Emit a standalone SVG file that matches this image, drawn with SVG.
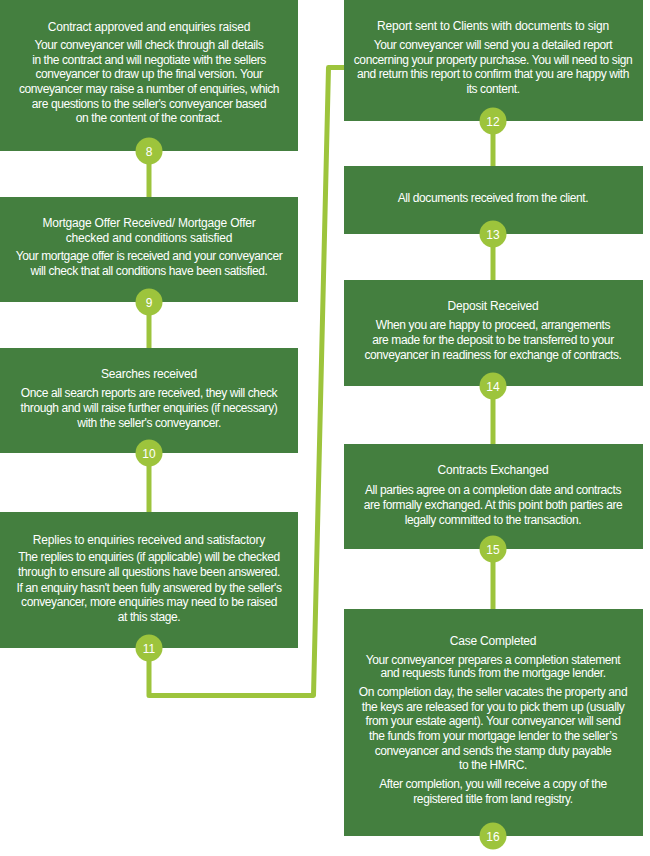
<svg xmlns="http://www.w3.org/2000/svg" width="650" height="856" viewBox="0 0 650 856">
<style>
.box{fill:#447f3f;}
.t{fill:#ffffff;font-family:"Liberation Sans",Arial,sans-serif;font-size:12px;letter-spacing:-0.4px;text-anchor:middle;}
.h{fill:#ffffff;font-family:"Liberation Sans",Arial,sans-serif;font-size:12px;letter-spacing:-0.2px;text-anchor:middle;}
.dot{fill:#9dc43c;}
.num{fill:#ffffff;font-family:"Liberation Sans",Arial,sans-serif;font-size:12px;text-anchor:middle;}
.conn{fill:none;stroke:#9dc43c;stroke-width:5;stroke-linejoin:round;}
</style>
<rect width="650" height="856" fill="#ffffff"/>
<g id="connectors">
<line class="conn" x1="149" y1="151" x2="149" y2="197"/>
<line class="conn" x1="149" y1="302" x2="149" y2="348"/>
<line class="conn" x1="149" y1="453" x2="149" y2="512"/>
<path class="conn" d="M149,648 L149,695.5 L313.5,695.5 L328.5,67.5 L345,67.5"/>
<line class="conn" x1="493" y1="121" x2="493" y2="166"/>
<line class="conn" x1="493" y1="234" x2="493" y2="280"/>
<line class="conn" x1="493" y1="386" x2="493" y2="444"/>
<line class="conn" x1="493" y1="549" x2="493" y2="609"/>
</g>
<g id="node8">
<rect class="box" x="0" y="0" width="298" height="151"/>
<text class="h" x="149" y="30.5">Contract approved and enquiries raised</text>
<text class="t" x="149" y="48.5">Your conveyancer will check through all details</text>
<text class="t" x="149" y="63.5">in the contract and will negotiate with the sellers</text>
<text class="t" x="149" y="78">conveyancer to draw up the final version. Your</text>
<text class="t" x="149" y="93">conveyancer may raise a number of enquiries, which</text>
<text class="t" x="149" y="107.5">are questions to the seller's conveyancer based</text>
<text class="t" x="149" y="122">on the content of the contract.</text>
<circle class="dot" cx="149" cy="151" r="13.5"/>
<text class="num" x="149" y="155.5">8</text>
</g>
<g id="node9">
<rect class="box" x="0" y="197" width="298" height="105"/>
<text class="h" x="149" y="226.5">Mortgage Offer Received/ Mortgage Offer</text>
<text class="h" x="149" y="241.5">checked and conditions satisfied</text>
<text class="t" x="149" y="259.5">Your mortgage offer is received and your conveyancer</text>
<text class="t" x="149" y="274.5">will check that all conditions have been satisfied.</text>
<circle class="dot" cx="149" cy="302" r="13.5"/>
<text class="num" x="149" y="306.5">9</text>
</g>
<g id="node10">
<rect class="box" x="0" y="348" width="298" height="105"/>
<text class="h" x="149" y="377.5">Searches received</text>
<text class="t" x="149" y="396.5">Once all search reports are received, they will check</text>
<text class="t" x="149" y="411.5">through and will raise further enquiries (if necessary)</text>
<text class="t" x="149" y="426.5">with the seller's conveyancer.</text>
<circle class="dot" cx="149" cy="453" r="13.5"/>
<text class="num" x="149" y="457.5">10</text>
</g>
<g id="node11">
<rect class="box" x="0" y="512" width="298" height="136"/>
<text class="h" x="149" y="543.5">Replies to enquiries received and satisfactory</text>
<text class="t" x="149" y="561">The replies to enquiries (if applicable) will be checked</text>
<text class="t" x="149" y="576">through to ensure all questions have been answered.</text>
<text class="t" x="149" y="591.5">If an enquiry hasn't been fully answered by the seller's</text>
<text class="t" x="149" y="605.5">conveyancer, more enquiries may need to be raised</text>
<text class="t" x="149" y="621">at this stage.</text>
<circle class="dot" cx="149" cy="648" r="13.5"/>
<text class="num" x="149" y="652.5">11</text>
</g>
<g id="node12">
<rect class="box" x="344" y="0" width="299" height="121"/>
<text class="h" x="493" y="30">Report sent to Clients with documents to sign</text>
<text class="t" x="493" y="48.5">Your conveyancer will send you a detailed report</text>
<text class="t" x="493" y="63.5">concerning your property purchase. You will need to sign</text>
<text class="t" x="493" y="78">and return this report to confirm that you are happy with</text>
<text class="t" x="493" y="93">its content.</text>
<circle class="dot" cx="493" cy="121" r="13.5"/>
<text class="num" x="493" y="125.5">12</text>
</g>
<g id="node13">
<rect class="box" x="344" y="166" width="299" height="68"/>
<text class="t" x="493" y="201.5">All documents received from the client.</text>
<circle class="dot" cx="493" cy="234" r="13.5"/>
<text class="num" x="493" y="238.5">13</text>
</g>
<g id="node14">
<rect class="box" x="344" y="280" width="299" height="106"/>
<text class="h" x="493" y="309.5">Deposit Received</text>
<text class="t" x="493" y="328.5">When you are happy to proceed, arrangements</text>
<text class="t" x="493" y="343.5">are made for the deposit to be transferred to your</text>
<text class="t" x="493" y="358.5">conveyancer in readiness for exchange of contracts.</text>
<circle class="dot" cx="493" cy="386" r="13.5"/>
<text class="num" x="493" y="390.5">14</text>
</g>
<g id="node15">
<rect class="box" x="344" y="444" width="299" height="105"/>
<text class="h" x="493" y="473.5">Contracts Exchanged</text>
<text class="t" x="493" y="493.5">All parties agree on a completion date and contracts</text>
<text class="t" x="493" y="508.5">are formally exchanged. At this point both parties are</text>
<text class="t" x="493" y="523.5">legally committed to the transaction.</text>
<circle class="dot" cx="493" cy="549" r="13.5"/>
<text class="num" x="493" y="553.5">15</text>
</g>
<g id="node16">
<rect class="box" x="344" y="609" width="299" height="227"/>
<text class="h" x="493" y="644.5">Case Completed</text>
<text class="t" x="493" y="663.5">Your conveyancer prepares a completion statement</text>
<text class="t" x="493" y="677">and requests funds from the mortgage lender.</text>
<text class="t" x="493" y="696">On completion day, the seller vacates the property and</text>
<text class="t" x="493" y="711">the keys are released for you to pick them up (usually</text>
<text class="t" x="493" y="725">from your estate agent). Your conveyancer will send</text>
<text class="t" x="493" y="740">the funds from your mortgage lender to the seller’s</text>
<text class="t" x="493" y="754.5">conveyancer and sends the stamp duty payable</text>
<text class="t" x="493" y="769">to the HMRC.</text>
<text class="t" x="493" y="787.5">After completion, you will receive a copy of the</text>
<text class="t" x="493" y="802.5">registered title from land registry.</text>
<circle class="dot" cx="493" cy="836" r="13.5"/>
<text class="num" x="493" y="840.5">16</text>
</g>
</svg>
